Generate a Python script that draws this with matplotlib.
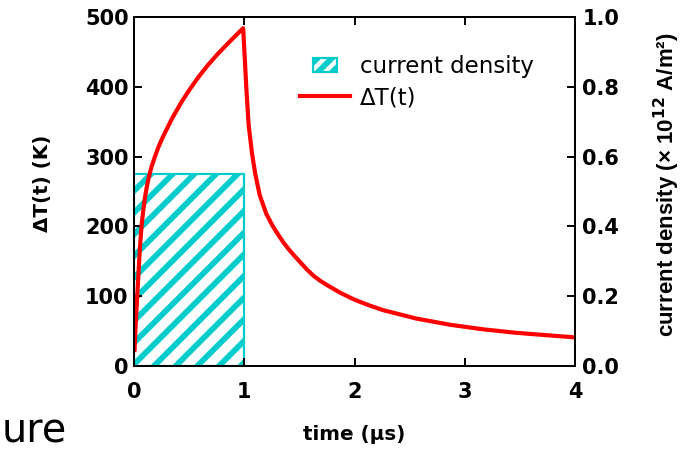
import matplotlib
matplotlib.use('Agg')
import matplotlib.pyplot as plt
from matplotlib.patches import Rectangle
from matplotlib.lines import Line2D
from matplotlib.legend_handler import HandlerPatch

# temperature rise (K) vs time (us)
time_us = [0.005, 0.012, 0.024, 0.039, 0.054, 0.068, 0.084, 0.10, 0.12, 0.14, 0.16,
           0.19, 0.22, 0.25, 0.28, 0.35, 0.43, 0.50, 0.58, 0.67, 0.765, 0.87, 0.99,
           1.005, 1.02, 1.04, 1.07, 1.10, 1.14, 1.20, 1.26, 1.30, 1.355, 1.41, 1.46,
           1.506, 1.57, 1.63, 1.69, 1.75, 1.87, 2.0, 2.13, 2.26, 2.56, 2.87, 3.17,
           3.47, 3.77, 4.0]
delta_T = [23, 50, 85, 128, 170, 200, 223, 242, 260, 274, 286,
           300, 313, 324, 334, 356, 378, 395, 413, 431, 448, 465, 484,
           440, 395, 345, 305, 275, 245, 218, 200, 190, 177, 166, 157,
           149, 138, 129, 122, 116, 105, 95, 87, 80, 68, 59, 52.5,
           47.5, 43.8, 41]

# current pulse (x 10^12 A/m^2)
pulse_start = [0.0]
pulse_width = [1.0]
pulse_j = [0.55]

RED = '#FF0000'
CYAN = '#00CCCC'

plt.rcParams['font.family'] = 'DejaVu Sans'
plt.rcParams['hatch.linewidth'] = 3.2

fig = plt.figure(figsize=(692 / 130, 450 / 130), dpi=130)
ax = fig.add_axes([134 / 692, 84 / 450, 441 / 692, 349 / 450])
ax2 = ax.twinx()

ax2.bar(pulse_start, pulse_j, width=pulse_width, align='edge',
        facecolor='white', edgecolor=CYAN, hatch='//', linewidth=1.2)
ax.plot(time_us, delta_T, color=RED, lw=2.3, solid_joinstyle='round')

# keep the line on top of the bars
ax.set_zorder(ax2.get_zorder() + 1)
ax.patch.set_visible(False)

ax.set_xlim(0, 4)
ax.set_ylim(0, 500)
ax2.set_ylim(0, 1.0)
ax.set_xticks([0, 1, 2, 3, 4])
ax.set_yticks([0, 100, 200, 300, 400, 500])
ax2.set_yticks([0, 0.2, 0.4, 0.6, 0.8, 1.0])
ax2.set_yticklabels(['0.0', '0.2', '0.4', '0.6', '0.8', '1.0'])

for a in (ax, ax2):
    for s in a.spines.values():
        s.set_linewidth(1.1)
ax.tick_params(axis='x', direction='in', top=True, length=4.5, width=1.1, pad=9,
               labelsize=11.6)
ax.tick_params(axis='y', direction='in', length=4.5, width=1.1, pad=3,
               labelsize=11.6)
ax2.tick_params(axis='y', direction='in', length=4.5, width=1.1, pad=4,
                labelsize=11.6)
for lab in ax.get_xticklabels() + ax.get_yticklabels() + ax2.get_yticklabels():
    lab.set_fontweight('bold')

ax.set_xlabel('time (µs)', fontsize=11, fontweight='bold')
ax.set_ylabel('ΔT(t) (K)', fontsize=11, fontweight='bold')
ax2.set_ylabel('current density (× 10$^{\\mathbf{12}}$ A/m²)', fontsize=12.3,
               fontweight='bold', family='Liberation Sans')
ax.xaxis.set_label_coords(0.499, -0.169)
ax.yaxis.set_label_coords(-0.186, 0.524)
ax2.yaxis.set_label_coords(1.175, 0.519)


def small_box(legend, orig_handle, xdescent, ydescent, width, height, fontsize):
    w = width * 0.48
    h = height * 0.85
    return Rectangle((-xdescent + (width - w) / 2, -ydescent + (height - h) / 2),
                     w, h)


handles = [Rectangle((0, 0), 1, 1, facecolor='white', edgecolor=CYAN, hatch='///',
                     linewidth=1.2),
           Line2D([], [], color=RED, lw=2.3)]
ax.legend(handles, ['current density', 'ΔT(t)'], loc='upper left',
          bbox_to_anchor=(300 / 692, 1 - 55 / 450), bbox_transform=fig.transFigure,
          frameon=False, fontsize=12.7, borderpad=0, borderaxespad=0,
          handlelength=2.17, handletextpad=0.43, labelspacing=0.37,
          handler_map={Rectangle: HandlerPatch(patch_func=small_box)})

fig.text(2 / 692, 8 / 450, 'ure', fontsize=22, family='DejaVu Sans',
         va='baseline', ha='left')

fig.savefig('out.png', dpi=130)
